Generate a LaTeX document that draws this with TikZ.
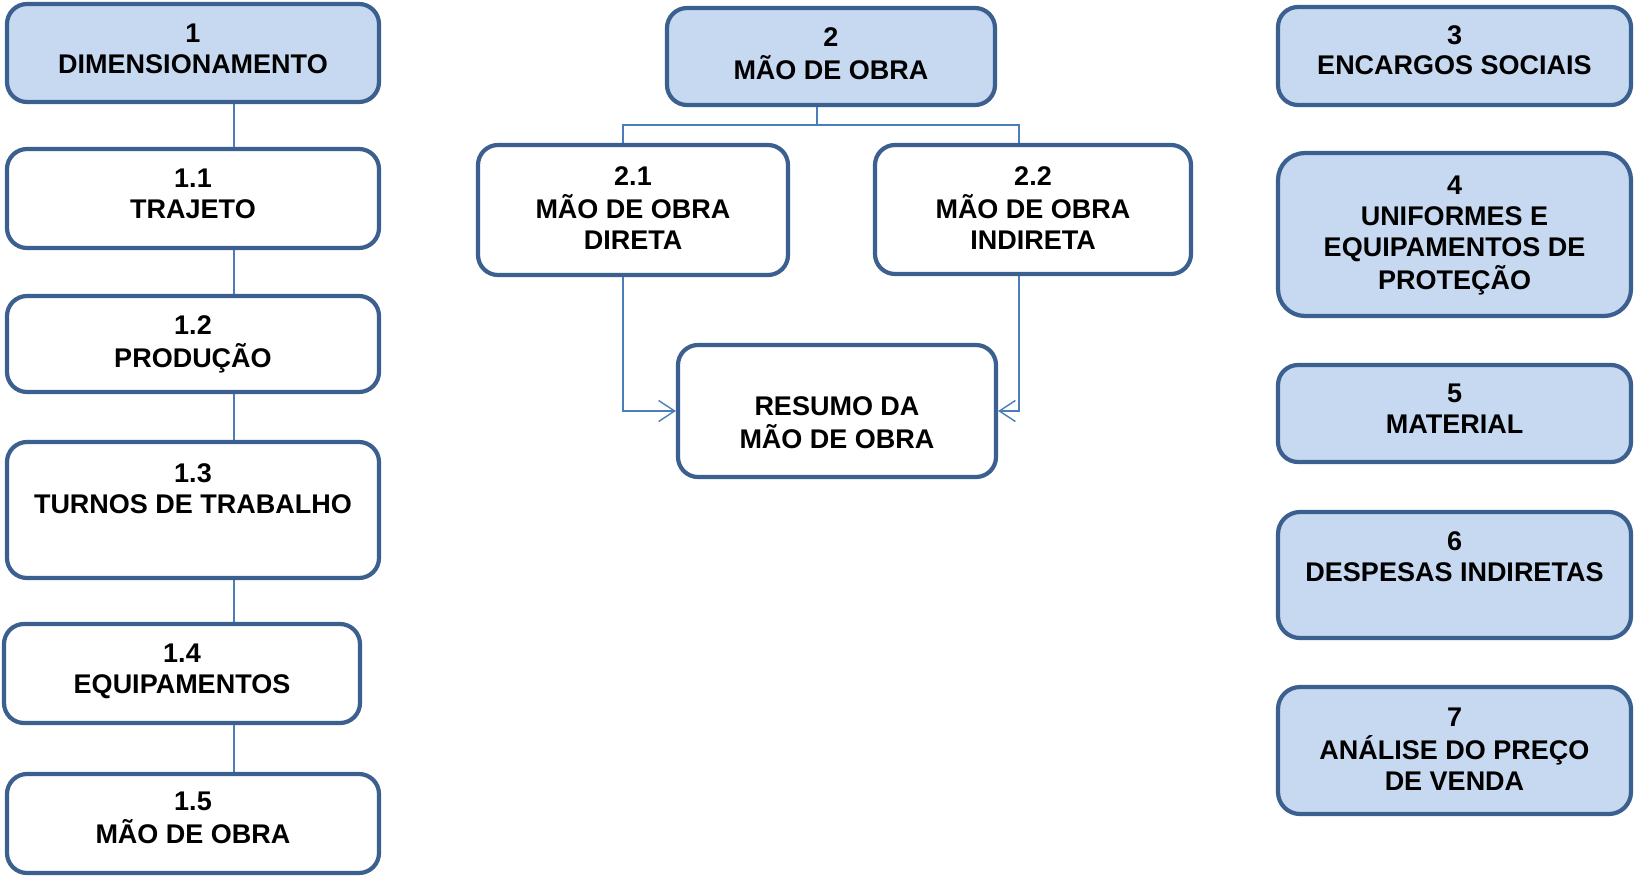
\documentclass[tikz,border=0pt]{standalone}
\usepackage{fontspec}
\setmainfont{Liberation Sans}
\usetikzlibrary{arrows.meta,backgrounds}
\definecolor{bordc}{HTML}{3B5F8F}
\definecolor{fillc}{HTML}{C6D9F1}
\definecolor{linec}{HTML}{4A7EBB}
\tikzset{
  boxst/.style={draw=bordc, line width=4.2pt, rounded corners=20pt, inner sep=0pt},
  mainbox/.style={boxst, fill=fillc},
  subbox/.style={boxst, fill=white},
  txt/.style={inner sep=0pt, font=\fontsize{27}{31}\selectfont\bfseries},
  conn/.style={draw=linec, line width=1.6pt},
  arr/.style={conn, -{Straight Barb[length=16pt,width=21pt,line width=1.4pt]}}
}
\newcommand\mybox[8]{%
  \node[#6, minimum width={#4-#2-4}, minimum height={#5-#3-4}] (#1) at ({(#2+#4)/2},{(#3+#5)/2}) {};
  \node[txt, anchor=base] (#1t) at ({(#2+#4)/2},#7) {\begin{tabular}[t]{@{}c@{}}#8\end{tabular}};
}
\begin{document}
\begin{tikzpicture}[x=1pt,y=-1pt]
\useasboundingbox (0,0) rectangle (1634,878);
% left column
\mybox{b1}{5}{2}{381}{104}{mainbox}{42}{1\\DIMENSIONAMENTO}
\mybox{b11}{5}{147}{381}{250}{subbox}{187}{1.1\\TRAJETO}
\mybox{b12}{5}{294}{381}{394}{subbox}{334}{1.2\\PRODUÇÃO}
\mybox{b13}{5}{440}{381}{580}{subbox}{482}{1.3\\TURNOS DE TRABALHO}
\mybox{b14}{2}{622}{362}{725}{subbox}{662}{1.4\\EQUIPAMENTOS}
\mybox{b15}{5}{772}{381}{875}{subbox}{810}{1.5\\MÃO DE OBRA}
% middle
\mybox{b2}{665}{6}{997}{107}{mainbox}{46}{2\\MÃO DE OBRA}
\mybox{b21}{476}{143}{790}{277}{subbox}{185}{2.1\\MÃO DE OBRA\\DIRETA}
\mybox{b22}{873}{143}{1193}{276}{subbox}{185}{2.2\\MÃO DE OBRA\\INDIRETA}
\mybox{res}{676}{343}{998}{479}{subbox}{415}{RESUMO DA\\MÃO DE OBRA}
% right column
\mybox{b3}{1276}{5}{1633}{107}{mainbox}{44}{3\\ENCARGOS SOCIAIS}
\mybox{b4}{1276}{151}{1633}{318}{mainbox,rounded corners=27pt}{194}{4\\UNIFORMES E\\EQUIPAMENTOS DE\\PROTEÇÃO}
\mybox{b5}{1276}{363}{1633}{464}{mainbox}{402}{5\\MATERIAL}
\mybox{b6}{1276}{510}{1633}{640}{mainbox,rounded corners=22pt}{550}{6\\DESPESAS INDIRETAS}
\mybox{b7}{1276}{685}{1633}{816}{mainbox,rounded corners=22pt}{726}{7\\ANÁLISE DO PREÇO\\DE VENDA}
% connector coordinates
\coordinate (cl) at (234,0);
\coordinate (j) at (817,125);
\coordinate (c21) at (623,125);
\coordinate (c22) at (1019,125);
\begin{scope}[on background layer]
\draw[conn] (b1.south -| cl) -- (b11.north -| cl);
\draw[conn] (b11.south -| cl) -- (b12.north -| cl);
\draw[conn] (b12.south -| cl) -- (b13.north -| cl);
\draw[conn] (b13.south -| cl) -- (b14.north -| cl);
\draw[conn] (b14.south -| cl) -- (b15.north -| cl);
\draw[conn] (b2.south -| j) -- (j);
\draw[conn] (b21.north -| c21) -- (c21) -- (c22) -- (b22.north -| c22);
\end{scope}
\draw[arr] (b21.south -| c21) |- (res.west);
\draw[arr] (b22.south -| c22) |- (res.east);
\end{tikzpicture}
\end{document}
